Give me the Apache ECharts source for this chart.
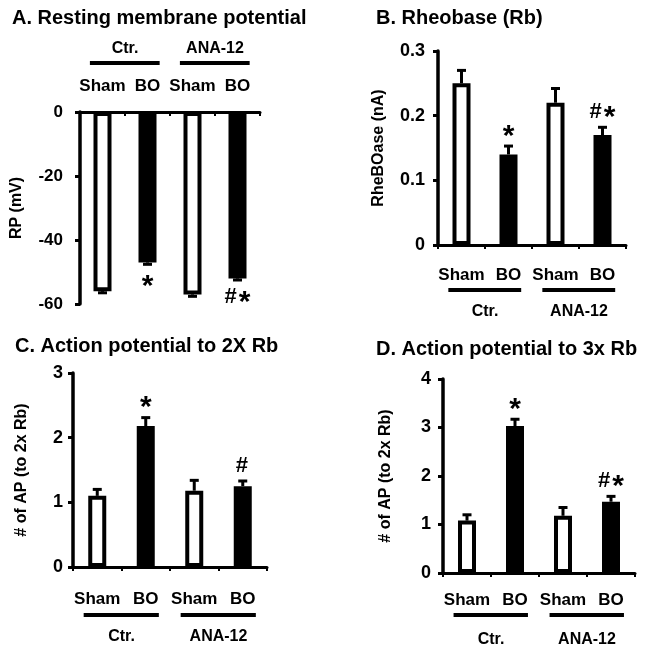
<!DOCTYPE html>
<html><head><meta charset="utf-8">
<script src="https://cdn.jsdelivr.net/npm/echarts@6/dist/echarts.min.js"></script>
<style>html,body{margin:0;padding:0;background:#fff}#c{width:646px;height:656px}</style>
</head><body><div id="c"></div>
<script>
const categories = ['Sham', 'BO', 'Sham', 'BO'];
const groups = ['Ctr.', 'ANA-12'];
const groupSpans = [[0, 1], [2, 3]];
const barFill = ['#ffffff', '#000000', '#ffffff', '#000000'];

const rpValues = [-56, -47, -57, -52];
const rpErr = [0.5, 0.6, 0.6, 0.5];
const rpMarks = ['', '*', '', '#*'];

const rbValues = [0.25, 0.14, 0.22, 0.17];
const rbErr = [0.02, 0.013, 0.022, 0.012];
const rbMarks = ['', '*', '', '#*'];

const ap2Values = [1.1, 2.18, 1.18, 1.25];
const ap2Err = [0.1, 0.13, 0.16, 0.08];
const ap2Marks = ['', '*', '', '#'];

const ap3Values = [1.08, 3.03, 1.18, 1.47];
const ap3Err = [0.12, 0.14, 0.17, 0.11];
const ap3Marks = ['', '*', '', '#*'];

const FONT = 'Liberation Sans, Arial, sans-serif';

const panels = [
  {title: 'A. Resting membrane potential', tx: 7, ty: 3,
   grid: {left: 80, top: 112, width: 180, height: 192}, min: -60, max: 0, interval: 20,
   yName: 'RP (mV)', nameGap: 55, labelMargin: 17, xMargin: 17, top: true, tickFont: 17,
   values: rpValues, err: rpErr, marks: rpMarks, dir: -1, markOff: 17, lineOff: 49, textOff: 63},
  {title: 'B. Rheobase (Rb)', tx: 371, ty: 3,
   grid: {left: 438, top: 51, width: 188, height: 194}, min: 0, max: 0.3, interval: 0.1,
   yName: 'RheBOase (nA)', nameGap: 51, labelMargin: 13, xMargin: 22, top: false, tickFont: 18,
   values: rbValues, err: rbErr, marks: rbMarks, dir: 1, markOff: 15, lineOff: 45, textOff: 67},
  {title: 'C. Action potential to 2X Rb', tx: 10, ty: 331,
   grid: {left: 73, top: 373, width: 194, height: 194}, min: 0, max: 3, interval: 1,
   yName: '# of AP (to 2x Rb)', nameGap: 43, labelMargin: 10, xMargin: 24, top: false, tickFont: 18,
   values: ap2Values, err: ap2Err, marks: ap2Marks, dir: 1, markOff: 15, lineOff: 48, textOff: 70},
  {title: 'D. Action potential to 3x Rb', tx: 371, ty: 334,
   grid: {left: 443, top: 379, width: 192, height: 194}, min: 0, max: 4, interval: 1,
   yName: '# of AP (to 2x Rb)', nameGap: 49, labelMargin: 12, xMargin: 19, top: false, tickFont: 18,
   values: ap3Values, err: ap3Err, marks: ap3Marks, dir: 1, markOff: 15, lineOff: 42, textOff: 67}
];

const option = {backgroundColor: '#fff', animation: false, title: [], grid: [], xAxis: [], yAxis: [], series: []};

panels.forEach((p, k) => {
  option.title.push({text: p.title, left: p.tx, top: p.ty,
    textStyle: {fontFamily: FONT, fontWeight: 'bold', fontSize: 20, color: '#000'}});
  option.grid.push(Object.assign({containLabel: false}, p.grid));
  option.xAxis.push({
    type: 'category', gridIndex: k, data: categories, position: p.top ? 'top' : 'bottom',
    axisLine: {onZero: false, lineStyle: {color: '#000', width: 3}},
    axisTick: {show: true, inside: p.top, length: 4, lineStyle: {color: '#000', width: 2}},
    axisLabel: {interval: 0, hideOverlap: false, margin: p.xMargin, fontFamily: FONT,
      fontWeight: 'bold', fontSize: 17, color: '#000'},
    splitLine: {show: false}
  });
  option.yAxis.push({
    type: 'value', gridIndex: k, min: p.min, max: p.max, interval: p.interval,
    name: p.yName, nameLocation: 'middle', nameGap: p.nameGap, nameRotate: 90,
    nameTextStyle: {fontFamily: FONT, fontWeight: 'bold', fontSize: 16, color: '#000'},
    axisLine: {show: true, lineStyle: {color: '#000', width: 3.5}},
    axisTick: {show: true, length: 5, lineStyle: {color: '#000', width: 3}},
    axisLabel: {margin: p.labelMargin, fontFamily: FONT, fontWeight: 'bold', fontSize: p.tickFont, color: '#000'},
    splitLine: {show: false}
  });
  // error bars (drawn behind bars)
  option.series.push({
    type: 'custom', xAxisIndex: k, yAxisIndex: k, z: 1,
    data: p.values.map((v, i) => [i, v, v + Math.sign(v) * p.err[i]]),
    renderItem: (params, api) => {
      const a = api.coord([api.value(0), api.value(1)]);
      const b = api.coord([api.value(0), api.value(2)]);
      const st = {stroke: '#000', lineWidth: 3};
      return {type: 'group', children: [
        {type: 'line', shape: {x1: a[0], y1: a[1], x2: b[0], y2: b[1]}, style: st},
        {type: 'line', shape: {x1: b[0] - 4.5, y1: b[1], x2: b[0] + 4.5, y2: b[1]}, style: st}
      ]};
    }
  });
  option.series.push({
    type: 'bar', xAxisIndex: k, yAxisIndex: k, z: 2, barWidth: 18,
    data: p.values.map((v, i) => ({value: v, itemStyle: {color: barFill[i]}})),
    itemStyle: {borderColor: '#000', borderWidth: 4}
  });
  // significance marks
  option.series.push({
    type: 'custom', xAxisIndex: k, yAxisIndex: k, z: 3,
    data: p.values.map((v, i) => [i, v + Math.sign(v) * p.err[i]]),
    renderItem: (params, api) => {
      const m = p.marks[params.dataIndex];
      if (!m) return null;
      const c = api.coord([api.value(0), api.value(1)]);
      const txt = m.split('').map(ch => ch === '#' ? '{h|#}' : '{a|*}').join('');
      const y = p.dir > 0 ? c[1] - p.markOff : c[1] + p.markOff;
      return {type: 'text', x: c[0], y: y, style: {
        text: txt, align: 'center', verticalAlign: 'middle', fill: '#000',
        rich: {
          h: {fontFamily: FONT, fontWeight: 'bold', fontSize: 22, color: '#000', padding: [0, 2, 0, 0]},
          a: {fontFamily: FONT, fontWeight: 'bold', fontSize: 30, color: '#000', padding: [11, 0, 0, 0]}
        }}};
    }
  });
  // group brackets
  option.series.push({
    type: 'custom', xAxisIndex: k, yAxisIndex: k, z: 3,
    data: groupSpans.map(s => [s[0], s[1]]),
    renderItem: (params, api) => {
      const a = api.coord([api.value(0), 0]);
      const b = api.coord([api.value(1), 0]);
      const band = api.size([1, 0])[0];
      const y0 = a[1];
      const ly = y0 + p.dir * p.lineOff;
      const ty = y0 + p.dir * p.textOff;
      return {type: 'group', children: [
        {type: 'line', shape: {x1: a[0] - band * 0.28, y1: ly, x2: b[0] + band * 0.27, y2: ly},
         style: {stroke: '#000', lineWidth: 4}},
        {type: 'text', x: (a[0] + b[0]) / 2, y: ty, style: {
          text: groups[params.dataIndex], align: 'center', verticalAlign: 'middle',
          fontFamily: FONT, fontWeight: 'bold', fontSize: 16, fill: '#000'}}
      ]};
    }
  });
});

const chart = echarts.init(document.getElementById('c'), null, {renderer: 'canvas'});
chart.setOption(option);
</script>
</body></html>
